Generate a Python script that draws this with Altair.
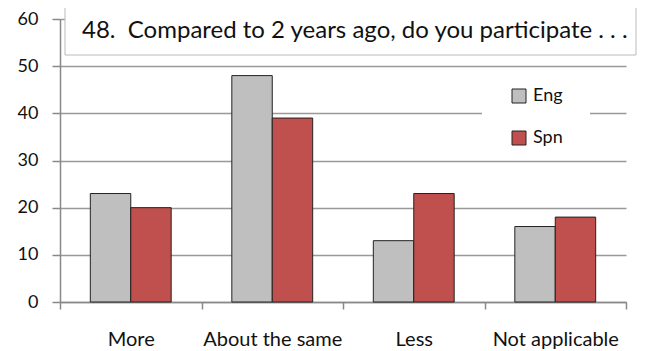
import altair as alt
import pandas as pd

categories = ["More", "About the same", "Less", "Not applicable"]
series = ["Eng", "Spn"]
eng = [23, 48, 13, 16]
spn = [20, 39, 23, 18]
y_ticks = [0, 10, 20, 30, 40, 50, 60]
title_text = "48.\u00a0 Compared to 2 years ago, do you participate . . ."
colors = ["#BFBFBF", "#C0504D"]

rows = []
for c, e, s in zip(categories, eng, spn):
    rows.append({"category": c, "series": series[0], "value": e})
    rows.append({"category": c, "series": series[1], "value": s})
df = pd.DataFrame(rows)

W, H = 566, 283
FONT = "Lato"
one = pd.DataFrame({"a": [0]})

legend_bg = alt.Chart(one).mark_rect(fill="white", stroke=None).encode(
    x=alt.value(422), x2=alt.value(530), y=alt.value(56), y2=alt.value(131)
)

title_box = alt.Chart(one).mark_rect(fill="white", stroke="#BBBBBB", strokeWidth=1).encode(
    x=alt.value(5), x2=alt.value(576), y=alt.value(-12), y2=alt.value(36)
)

title_txt = alt.Chart(one).mark_text(
    text=title_text, align="left", baseline="middle", font=FONT, fontSize=24, color="#111111"
).encode(x=alt.value(22), y=alt.value(12))

bars = alt.Chart(df).mark_bar(stroke="#222222", strokeWidth=1).encode(
    x=alt.X(
        "category:N", sort=categories,
        scale=alt.Scale(paddingInner=0, paddingOuter=0),
        axis=alt.Axis(title=None, labelAngle=0, tickBand="extent", grid=False,
                      tickSize=7, labelPadding=20, domainColor="#888888", tickColor="#888888",
                      domainWidth=1.5, tickWidth=1.5,
                      labelFontSize=20, labelFont=FONT, labelColor="#111111"),
    ),
    xOffset=alt.XOffset("series:N", sort=series,
                        scale=alt.Scale(paddingOuter=0.75, paddingInner=0)),
    y=alt.Y(
        "value:Q", scale=alt.Scale(domain=[0, 60]),
        axis=alt.Axis(title=None, values=y_ticks, tickSize=8, labelPadding=14,
                      domainColor="#888888", tickColor="#888888", domainWidth=1.5, tickWidth=1.5,
                      gridColor="#999999", gridWidth=1.3,
                      labelFontSize=18, labelFont=FONT, labelColor="#111111"),
    ),
    color=alt.Color(
        "series:N", sort=series, scale=alt.Scale(domain=series, range=colors),
        legend=alt.Legend(title=None, orient="none", legendX=450, legendY=68,
                          symbolType="square", symbolSize=196, symbolStrokeColor="#222222",
                          symbolStrokeWidth=1, labelFont=FONT, labelFontSize=18,
                          labelColor="#111111", labelOffset=5, rowPadding=24, padding=0),
    ),
)

chart = alt.layer(legend_bg, bars, title_box, title_txt).properties(
    width=W, height=H,
    autosize=alt.AutoSizeParams(type="none"),
    padding={"left": 52, "top": 11, "right": 13, "bottom": 49},
).configure_view(stroke=None)

chart.save("out.html", embed_options={"renderer": "svg", "actions": False})
